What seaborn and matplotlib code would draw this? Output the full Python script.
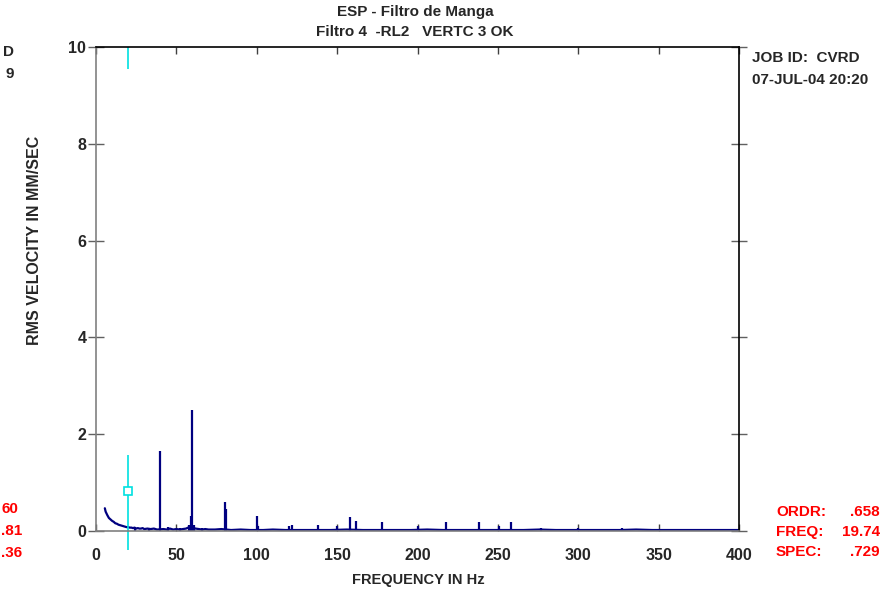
import matplotlib
matplotlib.use("Agg")
import matplotlib.pyplot as plt
import seaborn as sns
import pandas as pd

# noise floor of the spectrum (Hz, mm/s rms)
floor_hz = [5.5, 6, 7, 8, 9, 10, 11, 12, 13, 14, 15, 16, 17, 18, 19, 20,
            21, 22, 23, 24, 25, 26, 27, 28, 29, 30, 32, 34, 36, 38, 42, 44,
            46, 48, 50, 52, 54, 56, 58, 62, 64, 66, 68, 70, 74, 78, 84, 90,
            96, 104, 110, 118, 126, 134, 146, 156, 166, 176, 186, 196, 206,
            216, 226, 236, 246, 256, 266, 276, 286, 296, 306, 316, 326, 336,
            346, 356, 366, 376, 386, 396, 400]
floor_amp = [0.47, 0.40, 0.33, 0.27, 0.24, 0.21, 0.19, 0.16, 0.15, 0.13,
             0.12, 0.11, 0.10, 0.09, 0.08, 0.08, 0.07, 0.07, 0.06, 0.07,
             0.05, 0.06, 0.05, 0.05, 0.06, 0.04, 0.05, 0.04, 0.05, 0.03,
             0.04, 0.03, 0.05, 0.03, 0.04, 0.03, 0.04, 0.05, 0.08, 0.05,
             0.04, 0.03, 0.04, 0.03, 0.03, 0.04, 0.02, 0.03, 0.02, 0.02,
             0.03, 0.02, 0.02, 0.02, 0.02, 0.03, 0.02, 0.02, 0.02, 0.02,
             0.03, 0.02, 0.02, 0.02, 0.02, 0.02, 0.02, 0.03, 0.02, 0.02,
             0.02, 0.02, 0.02, 0.03, 0.02, 0.02, 0.02, 0.02, 0.02, 0.02, 0.02]

# discrete spectral lines
peak_hz = [24, 33, 40, 45, 52, 58, 59, 60, 61, 66, 80, 81, 100, 101, 120,
           122, 138, 150, 158, 162, 178, 200, 218, 238, 251, 258, 277, 300,
           318, 327, 346, 362, 371]
peak_amp = [0.09, 0.07, 1.65, 0.08, 0.07, 0.12, 0.3, 2.5, 0.12, 0.06, 0.6,
            0.45, 0.3, 0.1, 0.1, 0.12, 0.12, 0.1, 0.28, 0.2, 0.18, 0.1, 0.18,
            0.18, 0.1, 0.18, 0.07, 0.06, 0.05, 0.06, 0.05, 0.04, 0.04]

cursor_hz = 19.74
cursor_amp = 0.83

x_ticks = [0, 50, 100, 150, 200, 250, 300, 350, 400]
y_ticks = [0, 2, 4, 6, 8, 10]

sns.set_theme(style="white")
plt.rcParams["font.family"] = ["Liberation Sans", "DejaVu Sans"]
plt.rcParams["font.weight"] = "bold"

navy = "#000080"
fig = plt.figure(figsize=(8.9, 5.9), dpi=100)
ax = fig.add_axes([96 / 890, 59 / 590, 643 / 890, 484 / 590])

floor = pd.DataFrame({"hz": floor_hz, "amp": floor_amp})
sns.lineplot(data=floor, x="hz", y="amp", color=navy, lw=1.6,
             estimator=None, sort=False, ax=ax)
ax.vlines(peak_hz, 0, peak_amp, color=navy, lw=1.6)

# cursor
ax.vlines(cursor_hz, -0.4, 1.57, color="#00e0e0", lw=1.2, clip_on=False)
ax.vlines(cursor_hz, 9.55, 10, color="#00e0e0", lw=1.2)
ax.plot([cursor_hz], [cursor_amp], marker="s", ms=6, mfc="white",
        mec="#00e0e0", mew=1.2)

ax.set_xlim(0, 400)
ax.set_ylim(0, 10)
ax.set_xticks(x_ticks)
ax.set_yticks(y_ticks)
ax.set_xlabel("")
ax.set_ylabel("")
for lab in ax.get_xticklabels() + ax.get_yticklabels():
    lab.set_fontweight("bold")
    lab.set_fontsize(11.5)

for s in ["left", "bottom"]:
    ax.spines[s].set_color("#808080")
for s in ["top", "right"]:
    ax.spines[s].set_color("black")
for s in ax.spines.values():
    s.set_linewidth(1.2)

ax.tick_params(axis="y", which="both", left=True, right=True,
               direction="inout", length=12, width=1, color="#606060", pad=1)
ax.tick_params(axis="x", which="both", top=True, bottom=True,
               direction="in", length=5, width=1, color="#404040", pad=12)

fig.text(415 / 890, 1 - 12 / 590, "ESP - Filtro de Manga", ha="center",
         va="center", fontsize=11, fontweight="bold")
fig.text(415 / 890, 1 - 32 / 590, "Filtro 4  -RL2   VERTC 3 OK", ha="center",
         va="center", fontsize=11, fontweight="bold")
fig.text(35 / 890, 1 - 240 / 590, "RMS VELOCITY IN MM/SEC", rotation=90,
         ha="center", va="center", fontsize=11.5, fontweight="bold")
fig.text(418 / 890, 1 - 580 / 590, "FREQUENCY IN Hz", ha="center",
         va="center", fontsize=10.5, fontweight="bold")

fig.text(752 / 890, 1 - 58 / 590, "JOB ID:  CVRD", ha="left", va="center",
         fontsize=11, fontweight="bold")
fig.text(752 / 890, 1 - 80 / 590, "07-JUL-04 20:20", ha="left", va="center",
         fontsize=11, fontweight="bold")
fig.text(14 / 890, 1 - 52 / 590, "D", ha="right", va="center",
         fontsize=11, fontweight="bold")
fig.text(14 / 890, 1 - 74 / 590, "9", ha="right", va="center",
         fontsize=11, fontweight="bold")

red = "#ff0000"
for i, (k, v) in enumerate([("ORDR:", ".658"), ("FREQ:", "19.74"),
                            ("SPEC:", ".729")]):
    yy = 1 - (512 + 20 * i) / 590
    fig.text(776 / 890, yy, k, ha="left", va="center", color=red,
             fontsize=11, fontweight="bold")
    fig.text(880 / 890, yy, v, ha="right", va="center", color=red,
             fontsize=11, fontweight="bold")
for i, v in enumerate(["60", ".81", ".36"]):
    fig.text(1 / 890, 1 - (509 + 22 * i) / 590, v, ha="left", va="center",
             color=red, fontsize=11, fontweight="bold")

fig.savefig("out.png", dpi=100)
